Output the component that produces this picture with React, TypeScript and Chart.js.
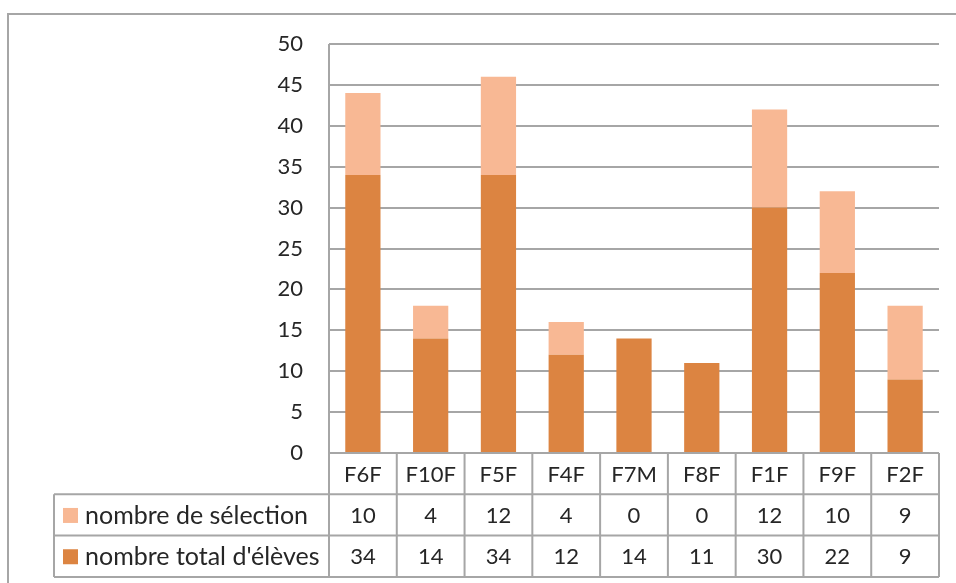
import React, { useEffect, useRef } from "react";
import { Chart, registerables } from "chart.js";

Chart.register(...registerables);

const categories = ["F6F", "F10F", "F5F", "F4F", "F7M", "F8F", "F1F", "F9F", "F2F"];
const selection = [10, 4, 12, 4, 0, 0, 12, 10, 9];
const totalEleves = [34, 14, 34, 12, 14, 11, 30, 22, 9];
const seriesNames = ["nombre de sélection", "nombre total d'élèves"];
const yTicks = [0, 5, 10, 15, 20, 25, 30, 35, 40, 45, 50];

const DARK = "#DC8441";
const LIGHT = "#F8B894";
const GRID = "#A6A6A6";
const TEXT = "#262626";
const FONT = "Lato";
const FS = 22;
const LEG_FS = 25;

const tablePlugin = {
  id: "tablePlugin",
  beforeDraw(chart: any) {
    const ctx = chart.ctx;
    ctx.save();
    ctx.strokeStyle = GRID;
    ctx.lineWidth = 2;
    ctx.beginPath();
    ctx.moveTo(8, chart.height);
    ctx.lineTo(8, 14);
    ctx.lineTo(chart.width, 14);
    ctx.stroke();
    ctx.restore();
  },
  afterDraw(chart: any) {
    const ctx = chart.ctx;
    const area = chart.chartArea;
    const xs = chart.scales.x;
    const rowH = 41.3;
    const y0 = area.bottom;
    const y1 = y0 + rowH;
    const y2 = y1 + rowH;
    const y3 = y2 + rowH;
    const legLeft = 54;
    const n = categories.length;
    const bounds: number[] = [];
    const step = (area.right - area.left) / n;
    for (let i = 0; i <= n; i++) bounds.push(area.left + step * i);

    ctx.save();
    ctx.strokeStyle = GRID;
    ctx.lineWidth = 2;
    ctx.beginPath();
    [y1, y2, y3].forEach((y) => {
      ctx.moveTo(legLeft, y);
      ctx.lineTo(area.right, y);
    });
    ctx.moveTo(area.left, y0);
    ctx.lineTo(area.right, y0);
    ctx.moveTo(area.left, area.top);
    ctx.lineTo(area.left, y3);
    ctx.moveTo(legLeft, y1);
    ctx.lineTo(legLeft, y3);
    for (let i = 1; i <= n; i++) {
      ctx.moveTo(bounds[i], y0);
      ctx.lineTo(bounds[i], y3);
    }
    ctx.stroke();

    ctx.fillStyle = TEXT;
    ctx.font = `${FS}px ${FONT}`;
    ctx.textAlign = "center";
    ctx.textBaseline = "middle";
    for (let i = 0; i < n; i++) {
      const cx = xs.getPixelForValue(i);
      ctx.fillText(categories[i], cx, (y0 + y1) / 2 + 1);
      ctx.fillText(String(selection[i]), cx, (y1 + y2) / 2 + 1);
      ctx.fillText(String(totalEleves[i]), cx, (y2 + y3) / 2 + 1);
    }
    const rows = [
      { y: (y1 + y2) / 2, color: LIGHT, label: seriesNames[0] },
      { y: (y2 + y3) / 2, color: DARK, label: seriesNames[1] },
    ];
    ctx.textAlign = "left";
    ctx.font = `${LEG_FS}px ${FONT}`;
    rows.forEach((r) => {
      ctx.fillStyle = r.color;
      ctx.fillRect(63, r.y - 7, 15, 15);
      ctx.fillStyle = TEXT;
      ctx.fillText(r.label, 85, r.y + 1);
    });
    ctx.restore();
  },
};

export default function App() {
  const ref = useRef<HTMLCanvasElement | null>(null);
  useEffect(() => {
    if (!ref.current) return;
    const chart = new Chart(ref.current, {
      type: "bar",
      data: {
        labels: categories,
        datasets: [
          {
            label: seriesNames[1],
            data: totalEleves,
            backgroundColor: DARK,
            stack: "s",
          },
          {
            label: seriesNames[0],
            data: selection,
            backgroundColor: LIGHT,
            stack: "s",
          },
        ],
      },
      options: {
        animation: false,
        responsive: false,
        maintainAspectRatio: false,
        layout: { padding: { left: 0, top: 44, right: 17, bottom: 130 } },
        plugins: { legend: { display: false }, tooltip: { enabled: false } },
        scales: {
          x: {
            display: false,
            stacked: true,
            grid: { display: false },
          },
          y: {
            stacked: true,
            min: 0,
            max: 50,
            afterFit: (s: any) => {
              s.width = 329;
            },
            afterBuildTicks: (s: any) => {
              s.ticks = yTicks.map((v) => ({ value: v }));
            },
            border: { display: false },
            grid: { color: GRID, lineWidth: 2, drawTicks: false },
            ticks: {
              padding: 26,
              color: TEXT,
              font: { family: FONT, size: FS },
            },
          },
        },
        datasets: { bar: { barPercentage: 0.52, categoryPercentage: 1 } },
      } as any,
      plugins: [tablePlugin],
    });
    return () => chart.destroy();
  }, []);
  return (
    <div style={{ position: "fixed", left: 0, top: 0, width: 956, height: 583, background: "#fff" }}>
      <canvas ref={ref} width={956} height={583} style={{ width: 956, height: 583 }} />
    </div>
  );
}
